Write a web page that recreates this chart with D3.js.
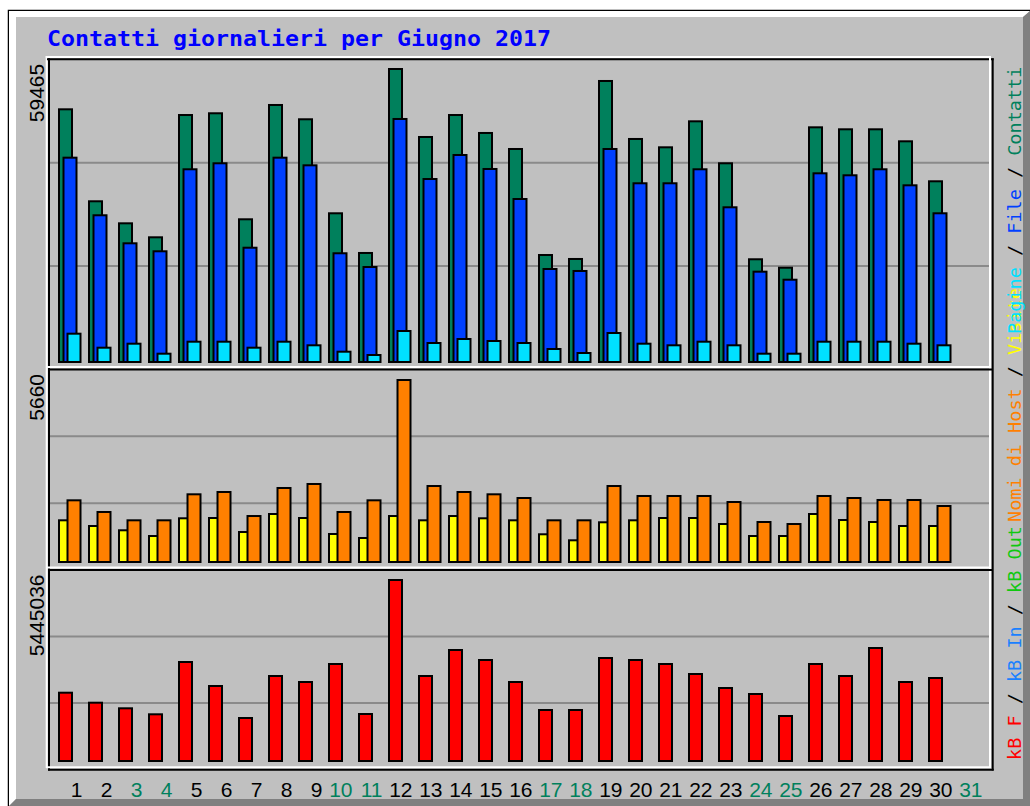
<!DOCTYPE html>
<html><head><meta charset="utf-8">
<script src="https://cdn.jsdelivr.net/npm/d3@7"></script>
<style>body{margin:0;background:#fff;overflow:hidden}</style>
</head><body>
<svg id="c" width="1030" height="806"></svg>
<script>
// ---------- DATA ----------
const title = "Contatti giornalieri per Giugno 2017";
const dayLabels = ["1","2","3","4","5","6","7","8","9","10","11","12","13","14","15","16","17","18","19","20","21","22","23","24","25","26","27","28","29","30","31"];
const weekendDays = ["3","4","10","11","17","18","24","25","31"];
const hits   = [51340,32800,28360,25540,50190,50540,29170,52210,49330,30380,22380,59465,45760,50190,46570,43340,21970,21170,57050,45360,43680,48920,40460,21110,19410,47710,47310,47310,44890,36830];
const files  = [41590,29980,24330,22720,39250,40460,23440,41590,40050,22320,19550,49390,37290,42130,39310,33260,19150,18750,43340,36430,36430,39250,31590,18610,16990,38440,38040,39250,36020,30380];
const pages  = [6108,3286,4092,2076,4495,4495,3286,4495,3770,2479,1814,6652,4233,5040,4636,4233,3024,2217,6249,4092,3770,4495,3770,2076,2076,4495,4495,4495,4092,3770];
const visits = [1344,1169,1037,861,1406,1415,984,1538,1415,923,800,1476,1344,1476,1406,1344,914,729,1283,1344,1415,1415,1230,861,861,1538,1353,1292,1169,1169];
const sites  = [1959,1600,1344,1344,2144,2215,1476,2338,2461,1600,1959,5660,2399,2215,2144,2030,1344,1344,2399,2092,2092,2092,1907,1292,1230,2092,2030,1969,1969,1784];
const kbytes = [2091700,1794170,1627540,1449020,3005150,2291060,1338930,2588600,2410070,2945650,1457950,5445036,2588600,3362200,3064660,2410070,1576960,1576960,3124170,3064660,2945650,2648110,2231550,2053030,1398440,2945650,2588600,3421710,2410070,2529090];
const maxLabels = ["59465","5660","5445036"];
const legendTop = [["Pagine","#00e0ff"],[" / ","#000"],["File","#0040ff"],[" / ","#000"],["Contatti","#00805c"]];
const legendMid = [["Nomi di Host","#ff8000"],[" / ","#000"],["Visite","#ffff00"]];
const legendBot = [["kB F","#ff0000"],[" / ","#000"],["kB In","#1a80ff"],[" / ","#000"],["kB Out","#10c810"]];

// ---------- DRAW ----------
const svg = d3.select("#c");
const GREY = "#c0c0c0", DK = "#808080";

// outer image with bevel
svg.append("rect").attr("x",8.5).attr("y",10.5).attr("width",1030).attr("height",810)
  .attr("fill",GREY).attr("stroke","#000").attr("stroke-width",1.5);
svg.append("polygon").attr("points","9,11 1030,11 1023,17 16,17 16,799 9,806").attr("fill","#fff");
svg.append("polygon").attr("points","1030,11 1030,806 9,806 16,799 1023,799 1023,17").attr("fill",DK);

// title
svg.append("text").attr("x",47).attr("y",46)
  .attr("font-family","'DejaVu Sans Mono', monospace").attr("font-weight","bold")
  .attr("font-size",21).attr("fill","#0000ff")
  .attr("textLength",504).attr("lengthAdjust","spacingAndGlyphs").text(title);

// scales
const x = d3.scaleBand().domain(dayLabels).range([58, 988]).padding(0);
const yTop = d3.scaleLinear().domain([0, 59465]).range([363, 68]);
const yMid = d3.scaleLinear().domain([0, 5660]).range([563, 379]);
const yBot = d3.scaleLinear().domain([0, 5445036]).range([762, 579]);

const panels = [
  {top:59.3, bot:369.5, lab:maxLabels[0]},
  {top:369.5, bot:570, lab:maxLabels[1]},
  {top:570, bot:769.5, lab:maxLabels[2]}
];

// grid lines (thirds of each panel)
panels.forEach(p=>{
  const h = p.bot - p.top;
  [1,2].forEach(k=>{
    const yy = p.top + h*k/3;
    svg.append("line").attr("x1",50).attr("x2",989).attr("y1",yy).attr("y2",yy)
      .attr("stroke","#8a8a8a").attr("stroke-width",2);
  });
});

// frame lines
function ln(x1,y1,x2,y2,c){svg.append("line").attr("x1",x1).attr("y1",y1).attr("x2",x2).attr("y2",y2).attr("stroke",c).attr("stroke-width",2);}
ln(45.7,57,991,57,"#fff");           // top white (outside)
ln(46.7,56,46.7,768,"#fff");         // left white (outside)
ln(47,59.3,993.7,59.3,"#000");        // top black
ln(49,58.3,49,770.5,"#000");         // left black
ln(990,58,990,768,"#fff");           // right white (inside)
ln(992.7,58.3,992.7,770.5,"#000");   // right black
ln(46,367,991,367,"#fff"); ln(48,369.5,993,369.5,"#000");
ln(46,567.5,991,567.5,"#fff"); ln(48,570,993,570,"#000");
ln(46,767.3,991,767.3,"#fff"); ln(48,769.7,993.7,769.7,"#000");

// bars
function bars(data, scale, offset, color){
  svg.append("g").selectAll("rect").data(data).join("rect")
    .attr("x",(d,i)=>x(dayLabels[i])+offset+1)
    .attr("width",13)
    .attr("y",d=>scale(d)+1)
    .attr("height",d=>Math.max(0, scale(0)-scale(d)-2))
    .attr("fill",color).attr("stroke","#000").attr("stroke-width",2);
}
bars(hits, yTop, 0, "#00805c");
bars(files, yTop, 4.5, "#0040ff");
bars(pages, yTop, 8.5, "#00e0ff");
bars(visits, yMid, 0, "#ffff00");
bars(sites, yMid, 8.5, "#ff8000");
bars(kbytes, yBot, 0, "#ff0000");

// left max labels (rotated)
panels.forEach((p,i)=>{
  svg.append("text").attr("transform",`translate(44,${p.top+4.5}) rotate(-90)`)
    .attr("text-anchor","end").attr("font-family","'Liberation Sans', Arial, sans-serif")
    .attr("font-size",21).attr("fill","#000").text(p.lab);
});

// day labels (right-aligned, like %2d)
const ax = svg.append("g").attr("transform","translate(0,797)")
  .call(d3.axisBottom(x).tickSize(0).tickPadding(0));
ax.select(".domain").remove();
ax.selectAll("text").attr("y",0).attr("dy",0).attr("x",9.5)
  .attr("text-anchor","end").attr("font-family","'Liberation Sans', Arial, sans-serif")
  .attr("font-size",21)
  .attr("fill",d=>weekendDays.includes(d)?"#00805c":"#000");

// right legends
function legend(segs, startY){
  const t = svg.append("text").attr("transform",`translate(1021,${startY}) rotate(-90)`)
    .attr("font-family","'DejaVu Sans Mono', monospace").attr("font-size",18.5)
    .attr("xml:space","preserve").style("white-space","pre");
  segs.forEach(s=>t.append("tspan").attr("fill",s[1]).text(s[0]));
}
legend(legendBot, 760);
legend(legendMid, 522);
legend(legendTop, 334);
</script>
</body></html>
